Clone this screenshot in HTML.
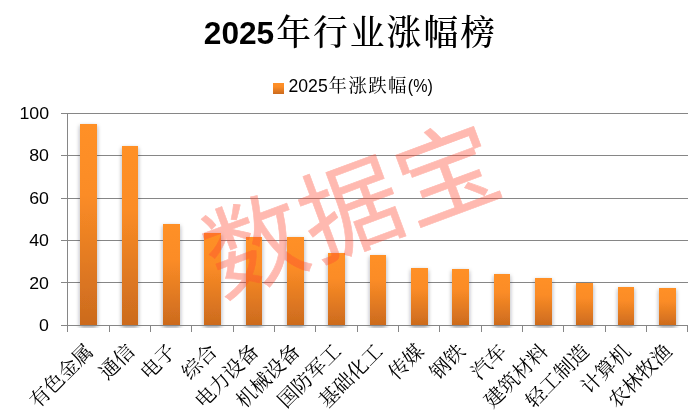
<!DOCTYPE html>
<html lang="zh-CN">
<head>
<meta charset="utf-8">
<title>2025年行业涨幅榜</title>
<style>
html,body{margin:0;padding:0;background:#fff;}
body{width:700px;height:419px;overflow:hidden;position:relative;}
svg{display:block;position:absolute;left:0;top:0;}
.lat{font-family:"Liberation Sans","Noto Serif CJK SC",sans-serif;}
.cjk{font-family:"Liberation Serif","Noto Serif CJK SC",serif;}
.wm{font-family:"Liberation Sans","Noto Sans CJK SC",sans-serif;}
</style>
</head>
<body>
<svg width="700" height="419" viewBox="0 0 700 419">
<defs>
<linearGradient id="g" x1="0" y1="0" x2="0" y2="1">
<stop offset="0" stop-color="#FF9028"/>
<stop offset="0.35" stop-color="#FB8C26"/>
<stop offset="1" stop-color="#CB6A1E"/>
</linearGradient>
<filter id="sh" x="-50%" y="-10%" width="200%" height="120%">
<feGaussianBlur in="SourceAlpha" stdDeviation="2.1" result="b"/>
<feOffset in="b" dx="0" dy="2" result="o"/>
<feFlood flood-color="#20262c" flood-opacity="0.40"/>
<feComposite in2="o" operator="in"/>
<feMerge><feMergeNode/><feMergeNode in="SourceGraphic"/></feMerge>
</filter>
<clipPath id="cp"><rect x="60" y="100" width="640" height="228"/></clipPath>
</defs>
<rect x="0" y="0" width="700" height="419" fill="#ffffff"/>

<g fill="#868686" shape-rendering="crispEdges">
<rect x="61" y="113" width="627" height="1"/>
<rect x="61" y="155" width="627" height="1"/>
<rect x="61" y="198" width="627" height="1"/>
<rect x="61" y="240" width="627" height="1"/>
<rect x="61" y="282" width="627" height="1"/>
</g>
<g clip-path="url(#cp)"><g filter="url(#sh)">
<rect x="80" y="124" width="17" height="202" fill="url(#g)"/>
<rect x="122" y="146" width="16" height="180" fill="url(#g)"/>
<rect x="163" y="224" width="17" height="102" fill="url(#g)"/>
<rect x="204" y="233" width="17" height="93" fill="url(#g)"/>
<rect x="246" y="237" width="16" height="89" fill="url(#g)"/>
<rect x="287" y="237" width="17" height="89" fill="url(#g)"/>
<rect x="328" y="253" width="17" height="73" fill="url(#g)"/>
<rect x="370" y="255" width="16" height="71" fill="url(#g)"/>
<rect x="411" y="268" width="17" height="58" fill="url(#g)"/>
<rect x="452" y="269" width="17" height="57" fill="url(#g)"/>
<rect x="494" y="274" width="16" height="52" fill="url(#g)"/>
<rect x="535" y="278" width="17" height="48" fill="url(#g)"/>
<rect x="576" y="283" width="17" height="43" fill="url(#g)"/>
<rect x="618" y="287" width="16" height="39" fill="url(#g)"/>
<rect x="659" y="288" width="17" height="38" fill="url(#g)"/>
</g></g>
<g fill="#868686" shape-rendering="crispEdges">
<rect x="61" y="325" width="627" height="1"/>
<rect x="67" y="113" width="1" height="219"/>
<rect x="109" y="325" width="1" height="7"/>
<rect x="150" y="325" width="1" height="7"/>
<rect x="191" y="325" width="1" height="7"/>
<rect x="233" y="325" width="1" height="7"/>
<rect x="274" y="325" width="1" height="7"/>
<rect x="315" y="325" width="1" height="7"/>
<rect x="357" y="325" width="1" height="7"/>
<rect x="398" y="325" width="1" height="7"/>
<rect x="439" y="325" width="1" height="7"/>
<rect x="481" y="325" width="1" height="7"/>
<rect x="522" y="325" width="1" height="7"/>
<rect x="563" y="325" width="1" height="7"/>
<rect x="605" y="325" width="1" height="7"/>
<rect x="646" y="325" width="1" height="7"/>
<rect x="687" y="325" width="1" height="7"/>
</g>
<g class="lat" font-size="17.4" fill="#000" text-anchor="end">
<text transform="translate(49.0,119) scale(1.02,1)">100</text>
<text transform="translate(49.0,161) scale(1.02,1)">80</text>
<text transform="translate(49.0,204) scale(1.02,1)">60</text>
<text transform="translate(49.0,245.8) scale(1.02,1)">40</text>
<text transform="translate(49.0,288.6) scale(1.02,1)">20</text>
<text transform="translate(49.0,330.6) scale(1.02,1)">0</text>
</g>
<g class="cjk" font-size="20" fill="#000" text-anchor="end">
<text transform="translate(94.5,352.5) rotate(-45)" x="0" y="0">有色金属</text>
<text transform="translate(135.8,352.5) rotate(-45)" x="0" y="0">通信</text>
<text transform="translate(177.1,352.5) rotate(-45)" x="0" y="0">电子</text>
<text transform="translate(218.5,352.5) rotate(-45)" x="0" y="0">综合</text>
<text transform="translate(259.8,352.5) rotate(-45)" x="0" y="0">电力设备</text>
<text transform="translate(301.1,352.5) rotate(-45)" x="0" y="0">机械设备</text>
<text transform="translate(342.5,352.5) rotate(-45)" x="0" y="0">国防军工</text>
<text transform="translate(383.8,352.5) rotate(-45)" x="0" y="0">基础化工</text>
<text transform="translate(425.1,352.5) rotate(-45)" x="0" y="0">传媒</text>
<text transform="translate(466.5,352.5) rotate(-45)" x="0" y="0">钢铁</text>
<text transform="translate(507.8,352.5) rotate(-45)" x="0" y="0">汽车</text>
<text transform="translate(549.1,352.5) rotate(-45)" x="0" y="0">建筑材料</text>
<text transform="translate(590.5,352.5) rotate(-45)" x="0" y="0">轻工制造</text>
<text transform="translate(631.8,352.5) rotate(-45)" x="0" y="0">计算机</text>
<text transform="translate(673.1,352.5) rotate(-45)" x="0" y="0">农林牧渔</text>
</g>
<text class="lat" transform="translate(203.8,44.2) scale(1.015,1)" font-size="31.2" font-weight="700" fill="#000">2025</text>
<text class="cjk" x="276.2" y="45.4" font-size="34.8" font-weight="500" letter-spacing="2.0" fill="#000">年行业涨幅榜</text>
<rect x="273" y="83" width="11" height="11" fill="url(#g)"/>
<text class="lat" transform="translate(288.5,91.5) scale(1.02,1.02)" font-size="17.3" fill="#000">2025</text>
<text class="cjk" x="328.6" y="92.4" font-size="18.4" letter-spacing="1.4" fill="#000">年涨跌幅</text>
<text class="lat" transform="translate(407.8,91.6) scale(0.93,1.06)" font-size="17.3" fill="#000">(%)</text>
<text class="wm" transform="translate(352.4,210.3) rotate(-20.4)" x="0" y="0" font-size="100" font-weight="400" letter-spacing="2.5" text-anchor="middle" dominant-baseline="central" fill="#ff4a32" stroke="#ff4a32" stroke-width="0.6" stroke-linejoin="round" opacity="0.38">数据宝</text>
</svg>
</body>
</html>
